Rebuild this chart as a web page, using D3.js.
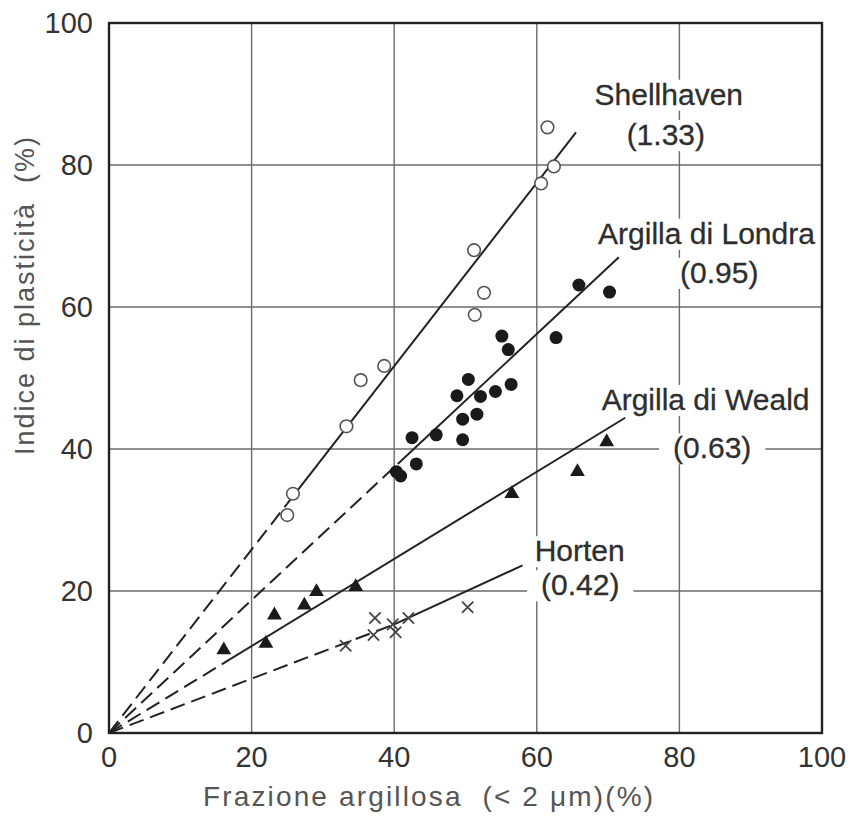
<!DOCTYPE html>
<html>
<head>
<meta charset="utf-8">
<script src="https://cdn.jsdelivr.net/npm/d3@7"></script>
<style>
  body { margin: 0; background: #fff; }
  svg { display: block; }
  text { font-family: "Liberation Sans", Arial, sans-serif; }
</style>
</head>
<body>
<svg id="chart" width="857" height="817"></svg>
<script>
// --- data ---
const xTicks = [0, 20, 40, 60, 80, 100];
const yTicks = [0, 20, 40, 60, 80, 100];

const shellhaven = [
  [25.0, 30.7], [25.8, 33.7], [33.3, 43.2], [35.3, 49.7], [38.6, 51.7],
  [51.3, 58.9], [52.6, 62.0], [51.2, 68.0], [60.6, 77.4], [62.4, 79.8], [61.5, 85.3]
];
const londra = [
  [40.3, 36.8], [40.9, 36.2], [43.1, 37.9], [42.5, 41.6], [45.9, 42.0], [49.6, 41.3],
  [49.6, 44.2], [51.6, 44.9], [48.8, 47.5], [50.4, 49.8], [52.1, 47.4], [54.2, 48.1],
  [56.4, 49.1], [55.1, 55.9], [56.0, 54.0], [62.7, 55.7], [65.9, 63.1], [70.2, 62.1]
];
const weald = [
  [16.1, 11.7], [22.0, 12.6], [23.2, 16.6], [27.4, 18.0], [29.1, 19.9],
  [34.6, 20.6], [56.5, 33.7], [65.7, 36.8], [69.8, 41.0]
];
const horten = [
  [33.2, 12.3], [37.3, 16.2], [37.1, 13.8], [39.8, 15.3], [40.2, 14.2],
  [42.0, 16.2], [50.3, 17.7]
];

const seriesNames = ["Shellhaven", "Argilla di Londra", "Argilla di Weald", "Horten"];
const activities = ["(1.33)", "(0.95)", "(0.63)", "(0.42)"];
// where the dashed part of each line becomes solid, and where it ends
const dashBreaks = [[25.0, 32.3], [40.5, 37.9], [17.0, 10.4], [40.0, 15.3]];
const lineEnds = [[65.5, 84.6], [71.5, 67.0], [72.4, 44.4], [58.0, 23.6]];

const xTitle = "Frazione argillosa  (< 2 \u03bcm)(%)";
const yTitle = "Indice di plasticit\u00e0  (%)";

// --- layout ---
const svg = d3.select("#chart");
const x = d3.scaleLinear().domain([0, 100]).range([109, 822]);
const y = d3.scaleLinear().domain([0, 100]).range([733, 23]);

const ink = "#222";

// grid
const grid = svg.append("g");
grid.selectAll(".vx").data(xTicks.slice(1, -1)).join("line")
  .attr("x1", d => x(d)).attr("x2", d => x(d))
  .attr("y1", y(0)).attr("y2", y(100))
  .attr("stroke", "#6d6a6b").attr("stroke-width", 1.4);
grid.selectAll(".hy").data(yTicks.slice(1, -1)).join("line")
  .attr("x1", x(0)).attr("x2", x(100))
  .attr("y1", d => y(d)).attr("y2", d => y(d))
  .attr("stroke", "#6d6a6b").attr("stroke-width", 1.4);

// tick labels
svg.append("g").selectAll("text").data(xTicks).join("text")
  .attr("x", d => x(d)).attr("y", 767)
  .attr("text-anchor", "middle")
  .attr("font-size", 29).attr("fill", "#333")
  .text(d => d);
svg.append("g").selectAll("text").data(yTicks).join("text")
  .attr("x", 93).attr("y", d => y(d))
  .attr("dy", "0.36em")
  .attr("text-anchor", "end")
  .attr("font-size", 29).attr("fill", "#333")
  .text(d => d);

// axis titles
svg.append("text")
  .attr("x", 203).attr("y", 806)
  .attr("font-size", 28).attr("fill", "#555")
  .attr("textLength", 450).attr("lengthAdjust", "spacing")
  .style("white-space", "pre")
  .text(xTitle);
svg.append("text")
  .attr("transform", "translate(34,296) rotate(-90)")
  .attr("text-anchor", "middle")
  .attr("font-size", 27).attr("fill", "#555")
  .attr("textLength", 318).attr("lengthAdjust", "spacing")
  .style("white-space", "pre")
  .text(yTitle);

// series labels, with a white patch behind that breaks the grid
const labelPos = [
  [[68.1, 88.5], [72.6, 82.8]],
  [[68.6, 68.9], [80.1, 63.4]],
  [[69.1, 45.5], [79.1, 38.7]],
  [[59.7, 24.2], [60.6, 19.4]]
];
const labels = svg.append("g");
seriesNames.forEach((name, i) => {
  [name, activities[i]].forEach((txt, j) => {
    const p = labelPos[i][j];
    const t = labels.append("text")
      .attr("x", x(p[0])).attr("y", y(p[1]))
      .attr("font-size", 30).attr("fill", "#2e2e2e")
      .attr("stroke", "#2e2e2e").attr("stroke-width", 0.3)
      .text(txt);
    const b = t.node().getBBox();
    labels.insert("rect", "text")
      .attr("x", b.x - 14).attr("y", b.y + 2)
      .attr("width", b.width + 28).attr("height", b.height - 2)
      .attr("fill", "#fff");
  });
});

// fitted lines: dashed from origin, then solid
const line = d3.line().x(d => x(d[0])).y(d => y(d[1]));
const lines = svg.append("g").attr("fill", "none").attr("stroke", ink).attr("stroke-width", 2);
dashBreaks.forEach((b, i) => {
  lines.append("path").attr("d", line([[0, 0], b])).attr("stroke-dasharray", "15,7");
  lines.append("path").attr("d", line([b, lineEnds[i]]));
});

// markers
svg.append("g").selectAll("circle").data(shellhaven).join("circle")
  .attr("cx", d => x(d[0])).attr("cy", d => y(d[1])).attr("r", 6.3)
  .attr("fill", "#fff").attr("stroke", "#555").attr("stroke-width", 1.6);
svg.append("g").selectAll("circle").data(londra).join("circle")
  .attr("cx", d => x(d[0])).attr("cy", d => y(d[1])).attr("r", 6.5)
  .attr("fill", "#1a1a1a");
svg.append("g").selectAll("path").data(weald).join("path")
  .attr("transform", d => `translate(${x(d[0])},${y(d[1])})`)
  .attr("d", d3.symbol(d3.symbolTriangle, 95))
  .attr("fill", "#1a1a1a");
svg.append("g").selectAll("path").data(horten).join("path")
  .attr("transform", d => `translate(${x(d[0])},${y(d[1])})`)
  .attr("d", d3.symbol(d3.symbolTimes, 85))
  .attr("fill", "none").attr("stroke", "#444").attr("stroke-width", 1.8);

// frame
svg.append("rect")
  .attr("x", x(0)).attr("y", y(100))
  .attr("width", x(100) - x(0)).attr("height", y(0) - y(100))
  .attr("fill", "none").attr("stroke", ink).attr("stroke-width", 2.4);
</script>
</body>
</html>
